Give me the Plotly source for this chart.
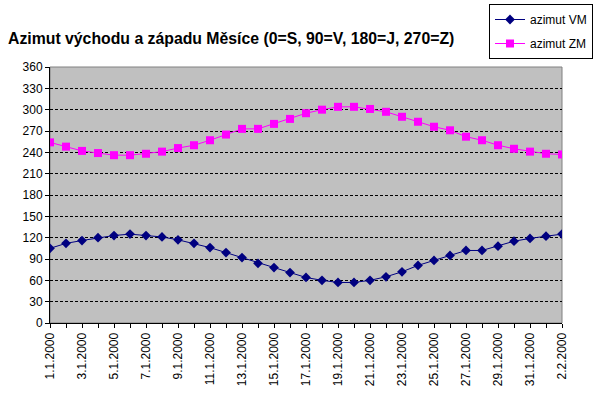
import plotly.graph_objects as go

dates = ["1.1.2000", "2.1.2000", "3.1.2000", "4.1.2000", "5.1.2000", "6.1.2000", "7.1.2000",
         "8.1.2000", "9.1.2000", "10.1.2000", "11.1.2000", "12.1.2000", "13.1.2000", "14.1.2000",
         "15.1.2000", "16.1.2000", "17.1.2000", "18.1.2000", "19.1.2000", "20.1.2000", "21.1.2000",
         "22.1.2000", "23.1.2000", "24.1.2000", "25.1.2000", "26.1.2000", "27.1.2000", "28.1.2000",
         "29.1.2000", "30.1.2000", "31.1.2000", "1.2.2000", "2.2.2000"]

azimut_vm = [105, 112, 116, 120, 123, 125, 123, 121, 117, 112, 106, 99, 92, 84, 78, 71,
             64, 60, 57, 57, 60, 65, 72, 81, 88, 95, 102, 102, 108, 115, 119, 122, 125]

azimut_zm = [254, 248, 242, 239, 236, 236, 238, 241, 246, 250, 257, 265, 273, 273, 280, 287,
             295, 300, 304, 304, 301, 297, 290, 283, 276, 271, 262, 257, 250, 245, 241, 238, 237]

tick_labels = [d if i % 2 == 0 else "" for i, d in enumerate(dates)]
y_ticks = list(range(0, 361, 30))

FONT = "Arial, Liberation Sans"

fig = go.Figure()
fig.add_trace(go.Scatter(
    x=dates, y=azimut_vm, name="azimut VM", mode="lines+markers",
    line=dict(color="#000080", width=1),
    marker=dict(symbol="diamond", size=7.5, color="#000080"),
    legendgroup="a"))
fig.add_trace(go.Scatter(
    x=dates, y=azimut_zm, name="azimut ZM", mode="lines+markers",
    line=dict(color="#FF00FF", width=1),
    marker=dict(symbol="square", size=8, color="#FF00FF"),
    legendgroup="b"))

fig.update_layout(
    width=603, height=396,
    margin=dict(l=50, r=41, t=67, b=73, autoexpand=False),
    paper_bgcolor="white",
    plot_bgcolor="#C0C0C0",
    font=dict(family=FONT, size=12, color="black"),
    title=dict(text="<b>Azimut východu a západu Měsíce (0=S, 90=V, 180=J, 270=Z)</b>",
               x=8 / 603, xanchor="left", xref="container",
               y=1 - 38 / 396, yanchor="middle", yref="container",
               font=dict(size=15.8, family=FONT, color="black")),
    legend=dict(x=(489 - 50) / 512, y=(323 - 4) / 256, xanchor="left", yanchor="top",
                bgcolor="white", bordercolor="black", borderwidth=1,
                traceorder="grouped", tracegroupgap=5, itemwidth=30,
                font=dict(size=12, family=FONT)),
    showlegend=True,
)

fig.update_xaxes(
    type="category", range=[0, len(dates) - 1], automargin=False,
    tickmode="array", tickvals=dates, ticktext=tick_labels,
    tickangle=-90, ticks="outside", ticklen=4, tickcolor="black",
    showline=True, linecolor="black", linewidth=1, mirror=False,
    showgrid=False, zeroline=False,
    tickfont=dict(size=12, family=FONT),
)
fig.update_yaxes(
    range=[0, 360], tickmode="array", tickvals=y_ticks, automargin=False,
    ticks="outside", ticklen=4, tickcolor="black",
    showline=True, linecolor="black", linewidth=1,
    showgrid=True, gridcolor="black", griddash="3px,2px", gridwidth=1,
    zeroline=False,
    tickfont=dict(size=12, family=FONT),
)
# grey border on top/right of plot area
fig.add_shape(type="rect", xref="paper", yref="paper", x0=0, y0=0, x1=1, y1=1,
              line=dict(color="#808080", width=1), layer="below")

fig.write_html("out.html", config={"displayModeBar": False},
               post_script="document.body.style.margin='0';document.body.style.overflow='hidden';")
